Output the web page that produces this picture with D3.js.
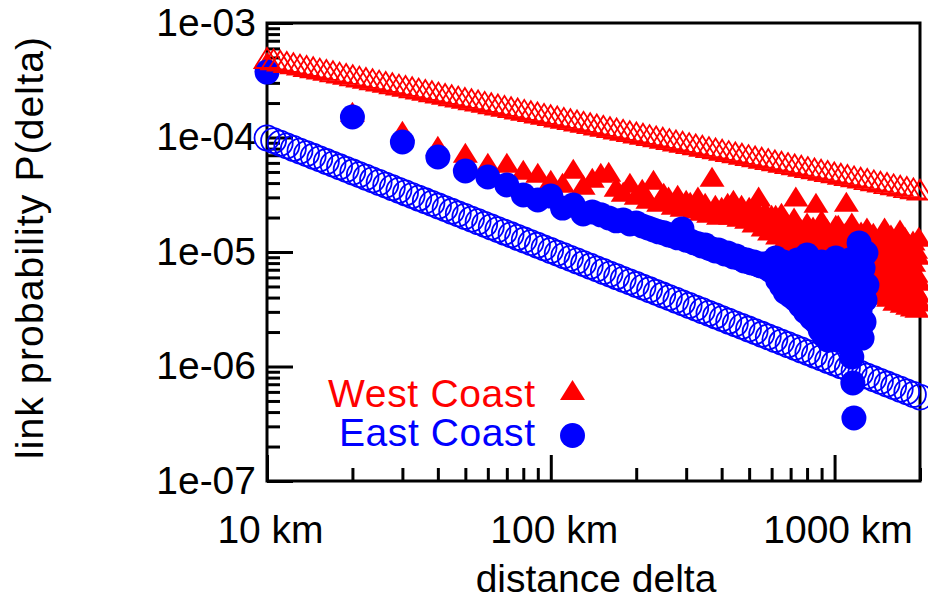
<!DOCTYPE html>
<html><head><meta charset="utf-8">
<script src="https://cdn.jsdelivr.net/npm/d3@7"></script>
<style>body{margin:0;background:#fff}svg{display:block}</style>
</head><body><svg id="chart" width="928" height="602"></svg>
<script>
const westDistance = [10,20,30,40,50,60,70,80,90,100,110,120,130,140,150,160,170,180,190,200,
210,220,230,240,250,260,270,280,290,300,310,320,330,340,350,360,370,380,390,400,
410,420,430,440,450,460,470,480,490,500,510,520,530,540,550,560,570,580,590,600,
610,620,630,640,650,660,670,680,690,700,710,720,730,740,750,760,770,780,790,800,
810,820,830,840,850,860,870,880,890,900,910,920,930,940,950,960,970,980,990,1000,
1010,1020,1030,1040,1050,1060,1070,1080,1090,1100,1110,1120,1130,1140,1150,1160,1170,1180,1190,1200,
1210,1220,1230,1240,1250,1260,1270,1280,1290,1300,1310,1320,1330,1340,1350,1360,1370,1380,1390,1400,
1410,1420,1430,1440,1450,1460,1470,1480,1490,1500,1510,1520,1530,1540,1550,1560,1570,1580,1590,1600,
1610,1620,1630,1640,1650,1660,1670,1680,1690,1700,1710,1720,1730,1740,1750,1760,1770,1780,1790,1800,
1810,1820,1830,1840,1850,1860,1870,1880,1890,1900,1910,1920,1930,1940,1950,1960,1970,1980,1990,2000];
const westProbability = [4.30e-4,1.57e-4,1.07e-4,7.94e-5,6.89e-5,5.64e-5,5.64e-5,4.90e-5,4.61e-5,4.01e-5,
3.77e-5,5.00e-5,3.62e-5,4.17e-5,4.61e-5,4.71e-5,3.48e-5,3.15e-5,3.77e-5,2.96e-5,
3.34e-5,2.73e-5,4.01e-5,2.57e-5,3.08e-5,2.85e-5,2.42e-5,2.96e-5,2.33e-5,2.68e-5,
2.57e-5,2.24e-5,2.85e-5,2.15e-5,2.52e-5,2.06e-5,4.26e-5,2.42e-5,1.98e-5,2.33e-5,
2.15e-5,2.52e-5,1.98e-5,2.68e-5,2.24e-5,1.90e-5,2.42e-5,2.06e-5,1.83e-5,2.33e-5,
1.98e-5,1.69e-5,2.24e-5,2.85e-5,1.83e-5,1.56e-5,2.15e-5,1.69e-5,1.44e-5,1.98e-5,
1.62e-5,1.98e-5,1.33e-5,1.76e-5,2.06e-5,1.50e-5,1.22e-5,1.69e-5,1.38e-5,1.13e-5,
1.62e-5,1.87e-5,2.85e-5,1.27e-5,1.04e-5,1.50e-5,1.18e-5,9.61e-6,1.38e-5,1.69e-5,
1.08e-5,8.86e-6,1.27e-5,1.56e-5,1.00e-5,2.52e-5,1.18e-5,8.52e-6,1.38e-5,1.79e-5,
9.23e-6,7.86e-6,1.22e-5,1.50e-5,8.86e-6,7.25e-6,1.13e-5,1.38e-5,8.18e-6,1.00e-5,
1.62e-5,6.96e-6,1.62e-5,8.86e-6,1.27e-5,6.30e-6,1.08e-5,8.18e-6,1.38e-5,2.57e-5,
7.25e-6,1.04e-5,5.70e-6,1.22e-5,1.69e-5,7.70e-6,5.15e-6,9.61e-6,1.33e-5,6.69e-6,
4.66e-6,1.08e-5,8.18e-6,1.41e-5,5.93e-6,9.42e-6,4.85e-6,1.18e-5,7.55e-6,1.53e-5,
5.47e-6,8.86e-6,1.13e-5,4.47e-6,6.96e-6,1.00e-5,1.38e-5,5.26e-6,8.18e-6,4.21e-6,
1.08e-5,6.43e-6,8.86e-6,4.85e-6,1.27e-5,7.25e-6,3.97e-6,1.00e-5,5.70e-6,1.53e-5,
7.86e-6,4.66e-6,1.15e-5,6.69e-6,3.81e-6,9.23e-6,5.36e-6,1.33e-5,7.25e-6,4.21e-6,
1.04e-5,6.17e-6,3.51e-6,8.52e-6,1.22e-5,5.05e-6,6.96e-6,3.66e-6,1.08e-5,1.47e-5,
5.70e-6,8.18e-6,3.38e-6,1.00e-5,4.66e-6,6.69e-6,1.27e-5,3.97e-6,8.86e-6,5.26e-6,
3.24e-6,1.13e-5,6.96e-6,4.30e-6,9.42e-6,3.81e-6,5.93e-6,3.12e-6,1.18e-5,7.70e-6,
4.66e-6,3.66e-6,1.00e-5,6.17e-6,3.05e-6,8.86e-6,4.13e-6,1.27e-5,5.26e-6,3.45e-6];

const eastDistance = [10,20,30,40,50,60,70,80,90,100,110,120,130,140,150,160,170,180,190,200,
210,220,230,240,250,260,270,280,290,300,310,320,330,340,350,360,370,380,390,400,
410,420,430,440,450,460,470,480,490,500,510,520,530,540,550,560,570,580,590,600,
610,620,630,640,650,660,670,680,690,700,710,720,730,740,750,760,770,780,790,800,
810,820,830,840,850,860,870,880,890,900,910,920,930,940,950,960,970,980,990,1000,
1010,1020,1030,1040,1050,1060,1070,1080,1090,1100,1110,1120,1130,1140,1150,1160,1170,1180,1190,1200,
1210,1220,1230,1240,1250,1260,1270,1280,1290,1300];
const eastProbability = [3.73e-4,1.51e-4,9.14e-5,6.76e-5,5.10e-5,4.52e-5,3.85e-5,3.15e-5,2.85e-5,3.08e-5,
2.42e-5,2.57e-5,2.15e-5,2.24e-5,2.11e-5,1.98e-5,1.87e-5,1.90e-5,1.76e-5,1.79e-5,
1.69e-5,1.62e-5,1.56e-5,1.50e-5,1.47e-5,1.41e-5,1.38e-5,1.33e-5,1.59e-5,1.27e-5,
1.25e-5,1.20e-5,1.18e-5,1.13e-5,1.15e-5,1.08e-5,1.06e-5,1.02e-5,1.04e-5,1.00e-5,
9.61e-6,9.80e-6,9.42e-6,9.04e-6,9.23e-6,8.86e-6,8.69e-6,8.35e-6,8.52e-6,8.18e-6,
8.02e-6,8.18e-6,7.86e-6,7.70e-6,7.55e-6,7.86e-6,7.40e-6,7.25e-6,6.96e-6,8.18e-6,
6.69e-6,8.86e-6,5.70e-6,7.55e-6,5.05e-6,8.18e-6,4.47e-6,6.96e-6,5.70e-6,4.13e-6,
7.86e-6,5.05e-6,3.81e-6,8.52e-6,4.66e-6,3.38e-6,7.25e-6,4.13e-6,2.99e-6,9.42e-6,
5.70e-6,3.81e-6,2.65e-6,8.18e-6,4.66e-6,2.45e-6,6.96e-6,3.45e-6,2.08e-6,8.18e-6,
4.13e-6,1.85e-6,6.30e-6,3.12e-6,1.70e-6,7.70e-6,3.81e-6,2.17e-6,5.15e-6,1.77e-6,
8.86e-6,2.99e-6,1.70e-6,5.70e-6,2.45e-6,8.18e-6,2.08e-6,3.97e-6,7.70e-6,1.64e-6,
5.15e-6,2.65e-6,8.52e-6,1.88e-6,1.21e-6,7.18e-7,3.55e-7,3.81e-6,6.96e-6,2.26e-6,
8.18e-6,1.20e-5,3.12e-6,5.70e-6,1.77e-6,7.25e-6,2.45e-6,3.81e-6,9.80e-6,5.15e-6];

const fitDistance = [10,10.55,11.13,11.742,12.388,13.068,13.787,14.545,15.345,16.189,
17.077,18.016,19.007,20.052,21.154,22.316,23.543,24.837,26.203,27.644,
29.166,30.77,32.462,34.247,36.13,38.112,40.207,42.418,44.75,47.21,
49.806,52.544,55.433,58.481,61.696,65.087,68.666,72.441,76.424,80.626,
85.061,89.738,94.672,99.877,105.36,111.15,117.26,123.71,130.51,137.68,
145.25,153.24,161.66,170.55,179.92,189.81,200.25,211.26,222.87,235.14,
248.07,261.71,276.1,291.28,307.28,324.17,342,360.8,380.64,401.56,
423.64,446.93,471.5,497.42,524.75,553.6,584.04,616.15,650.03,685.77,
723.47,763.25,805.21,849.48,896.12,945.39,997.37,1052.2,1110,1171.2,
1235.6,1303.5,1375.2,1450.8,1530.4,1614.5,1703.3,1796.9,1895.7,2000];
const westFitProbability = [4.629e-4,4.507e-4,4.388e-4,4.272e-4,4.160e-4,4.050e-4,3.943e-4,3.839e-4,3.738e-4,3.639e-4,
3.543e-4,3.449e-4,3.358e-4,3.270e-4,3.183e-4,3.099e-4,3.018e-4,2.938e-4,2.861e-4,2.785e-4,
2.711e-4,2.639e-4,2.570e-4,2.502e-4,2.436e-4,2.372e-4,2.309e-4,2.248e-4,2.189e-4,2.131e-4,
2.075e-4,2.020e-4,1.967e-4,1.915e-4,1.864e-4,1.815e-4,1.767e-4,1.721e-4,1.675e-4,1.631e-4,
1.588e-4,1.546e-4,1.505e-4,1.466e-4,1.427e-4,1.389e-4,1.353e-4,1.317e-4,1.282e-4,1.248e-4,
1.215e-4,1.183e-4,1.152e-4,1.122e-4,1.092e-4,1.063e-4,1.035e-4,1.008e-4,9.813e-5,9.554e-5,
9.298e-5,9.053e-5,8.814e-5,8.581e-5,8.355e-5,8.134e-5,7.920e-5,7.711e-5,7.507e-5,7.309e-5,
7.116e-5,6.928e-5,6.745e-5,6.567e-5,6.394e-5,6.225e-5,6.061e-5,5.901e-5,5.745e-5,5.594e-5,
5.446e-5,5.302e-5,5.162e-5,5.026e-5,4.893e-5,4.764e-5,4.638e-5,4.516e-5,4.397e-5,4.281e-5,
4.168e-5,4.058e-5,3.951e-5,3.847e-5,3.745e-5,3.646e-5,3.550e-5,3.456e-5,3.365e-5,3.276e-5];
const eastFitProbability = [9.908e-5,9.400e-5,8.919e-5,8.462e-5,8.028e-5,7.617e-5,7.227e-5,6.856e-5,6.505e-5,6.172e-5,
5.853e-5,5.553e-5,5.269e-5,4.999e-5,4.742e-5,4.499e-5,4.269e-5,4.050e-5,3.843e-5,3.646e-5,
3.458e-5,3.281e-5,3.113e-5,2.953e-5,2.802e-5,2.658e-5,2.522e-5,2.393e-5,2.270e-5,2.154e-5,
2.043e-5,1.938e-5,1.839e-5,1.745e-5,1.655e-5,1.571e-5,1.490e-5,1.414e-5,1.341e-5,1.273e-5,
1.207e-5,1.145e-5,1.086e-5,1.031e-5,9.78e-6,9.28e-6,8.80e-6,8.35e-6,7.92e-6,7.52e-6,
7.131e-6,6.765e-6,6.419e-6,6.090e-6,5.778e-6,5.482e-6,5.201e-6,4.934e-6,4.681e-6,4.441e-6,
4.213e-6,3.997e-6,3.792e-6,3.598e-6,3.414e-6,3.239e-6,3.073e-6,2.915e-6,2.766e-6,2.624e-6,
2.489e-6,2.361e-6,2.240e-6,2.126e-6,2.017e-6,1.913e-6,1.815e-6,1.722e-6,1.634e-6,1.550e-6,
1.470e-6,1.395e-6,1.324e-6,1.256e-6,1.191e-6,1.130e-6,1.072e-6,1.017e-6,9.65e-7,9.16e-7,
8.684e-7,8.239e-7,7.817e-7,7.416e-7,7.036e-7,6.676e-7,6.334e-7,6.009e-7,5.701e-7,5.409e-7];

const xTickValues = [10, 100, 1000];
const xTickLabels = ["10 km", "100 km", "1000 km"];
const xMinorTicks = [20,30,40,50,60,70,80,90,200,300,400,500,600,700,800,900,2000];
const yTickValues = [1e-7, 1e-6, 1e-5, 1e-4, 1e-3];
const yTickLabels = ["1e-07", "1e-06", "1e-05", "1e-04", "1e-03"];
const yMinorTicks = [2e-7,3e-7,4e-7,5e-7,6e-7,7e-7,8e-7,9e-7,2e-6,3e-6,4e-6,5e-6,6e-6,7e-6,8e-6,9e-6,
2e-5,3e-5,4e-5,5e-5,6e-5,7e-5,8e-5,9e-5,2e-4,3e-4,4e-4,5e-4,6e-4,7e-4,8e-4,9e-4];
const legendLabels = ["West Coast", "East Coast"];
const xTitle = "distance delta";
const yTitle = "link probability P(delta)";

const RED = "#ff0000", BLUE = "#0000ff";
const FONT = "'Liberation Sans', Arial, Helvetica, sans-serif";
const FS = 39;
const plot = {left: 267, top: 23, right: 920, bottom: 481};

const x = d3.scaleLog().domain([10, 2000]).range([plot.left, plot.right]);
const y = d3.scaleLog().domain([1e-7, 1e-3]).range([plot.bottom, plot.top]);
const svg = d3.select("#chart");

const triPath = "M0,-13.3L-12.5,6.7L12.5,6.7Z";

function styleAxis(g) {
  g.select(".domain").remove();
  g.selectAll("line").attr("stroke", "#000").attr("stroke-width", 3);
  g.attr("font-size", FS).attr("font-family", FONT);
  g.selectAll("text").attr("fill", "#000");
}

// border
svg.append("rect").attr("x", plot.left).attr("y", plot.top)
  .attr("width", plot.right - plot.left).attr("height", plot.bottom - plot.top)
  .attr("fill", "none").attr("stroke", "#000").attr("stroke-width", 3);

// minor ticks
svg.append("g").attr("transform", `translate(0,${plot.bottom})`)
  .call(d3.axisBottom(x).tickValues(xMinorTicks).tickSize(-13).tickFormat(() => ""))
  .call(styleAxis);
svg.append("g").attr("transform", `translate(${plot.left},0)`)
  .call(d3.axisLeft(y).tickValues(yMinorTicks).tickSize(-13).tickFormat(() => ""))
  .call(styleAxis);

// major ticks
svg.append("g").attr("transform", `translate(0,${plot.bottom})`)
  .call(d3.axisBottom(x).tickValues(xTickValues).tickSize(-26).tickPadding(34)
    .tickFormat((d, i) => xTickLabels[i]))
  .call(styleAxis)
  .call(g => g.selectAll("text").attr("dx", 3));
svg.append("g").attr("transform", `translate(${plot.left},0)`)
  .call(d3.axisLeft(y).tickValues(yTickValues).tickSize(-26).tickPadding(11)
    .tickFormat((d, i) => yTickLabels[i]))
  .call(styleAxis);

// data: West Coast filled triangles
svg.append("g").selectAll("path").data(westDistance.map((d, i) => [d, westProbability[i]]))
  .join("path").attr("d", triPath)
  .attr("transform", d => `translate(${x(d[0])},${y(d[1])})`)
  .attr("fill", RED);

// East Coast filled circles
svg.append("g").selectAll("circle").data(eastDistance.map((d, i) => [d, eastProbability[i]]))
  .join("circle").attr("cx", d => x(d[0])).attr("cy", d => y(d[1])).attr("r", 12.5)
  .attr("fill", BLUE);

// fitted power laws (open markers)
svg.append("g").selectAll("path").data(fitDistance.map((d, i) => [d, westFitProbability[i]]))
  .join("path").attr("d", triPath)
  .attr("transform", d => `translate(${x(d[0])},${y(d[1])})`)
  .attr("fill", "none").attr("stroke", RED).attr("stroke-width", 1.8);
svg.append("g").selectAll("circle").data(fitDistance.map((d, i) => [d, eastFitProbability[i]]))
  .join("circle").attr("cx", d => x(d[0])).attr("cy", d => y(d[1])).attr("r", 12.5)
  .attr("fill", "none").attr("stroke", BLUE).attr("stroke-width", 1.8);

// legend
const legend = svg.append("g").attr("font-family", FONT).attr("font-size", FS);
legend.append("text").attr("x", 535).attr("y", 407).attr("text-anchor", "end").attr("fill", RED)
  .attr("textLength", 207).attr("lengthAdjust", "spacing").text(legendLabels[0]);
legend.append("path").attr("d", triPath).attr("transform", "translate(572.5,393.3)").attr("fill", RED);
legend.append("text").attr("x", 535).attr("y", 446).attr("text-anchor", "end").attr("fill", BLUE)
  .attr("textLength", 196).attr("lengthAdjust", "spacing").text(legendLabels[1]);
legend.append("circle").attr("cx", 572.5).attr("cy", 435.5).attr("r", 12.5).attr("fill", BLUE);

// axis titles
svg.append("text").attr("x", 596).attr("y", 592).attr("text-anchor", "middle")
  .attr("font-family", FONT).attr("font-size", FS).text(xTitle);
svg.append("text").attr("transform", "translate(43,248) rotate(-90)").attr("text-anchor", "middle")
  .attr("font-family", FONT).attr("font-size", FS)
  .attr("textLength", 422).attr("lengthAdjust", "spacing").text(yTitle);
</script></body></html>
